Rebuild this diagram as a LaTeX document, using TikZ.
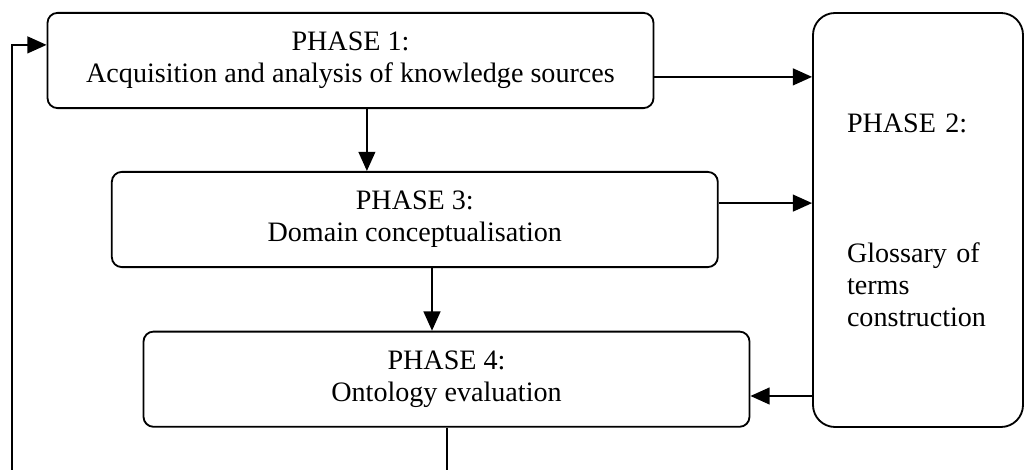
\documentclass[tikz,border=0pt]{standalone}
\usepackage{fontspec}
\setmainfont{Liberation Serif}
\usetikzlibrary{arrows.meta,positioning,calc}

\begin{document}
\begin{tikzpicture}[
  phasebox/.style={draw, line width=1.3pt, rounded corners=0.25cm, minimum width=15.15cm, minimum height=2.38cm, align=center, font=\fontsize{20}{22.8}\selectfont},
  flow/.style={-{Triangle[length=0.48cm,width=0.42cm]}, line width=1.3pt}]
  \useasboundingbox (0,0) rectangle (25.625,11.75);

  % Phase boxes
  \node[phasebox] (p1) at (8.7625,10.2375) {PHASE 1:\\Acquisition and analysis of knowledge sources};
  \node[phasebox] (p3) at (10.37,6.2625) {PHASE 3:\\Domain conceptualisation};
  \node[phasebox] (p4) at (11.1625,2.27) {PHASE 4:\\Ontology evaluation};

  % Glossary
  \node[draw, line width=1.3pt, rounded corners=0.55cm, minimum width=5.25cm, minimum height=10.35cm, text width=3.55cm, inner xsep=0.85cm, align=left, font=\fontsize{20}{22.8}\selectfont] (p2) at (22.95,6.25) {PHASE 2:\\[2.45cm]Glossary of\\terms\\construction};

  % Into the glossary and back
  \coordinate (o12) at ([yshift=-0.41cm]p1.east);
  \draw[flow] (o12) -- (o12 -| p2.west);
  \coordinate (o32) at ([yshift=0.41cm]p3.east);
  \draw[flow] (o32) -- (o32 -| p2.west);
  \coordinate (o24) at ([yshift=-0.42cm]p4.east);
  \draw[flow] (o24 -| p2.west) -- (o24);

  % Down the phases
  \coordinate (o13) at ([xshift=0.41cm]p1.south);
  \draw[flow] (o13) -- (o13 |- p3.north);
  \coordinate (o34) at ([xshift=0.43cm]p3.south);
  \draw[flow] (o34) -- (o34 |- p4.north);

  % Feedback loop, cut off at the bottom
  \coordinate (p4drop) at ([xshift=0.02cm]p4.south);
  \coordinate (p4out) at (p4drop |- 0,-0.1);
  \draw[line width=1.3pt] (p4drop) -- (p4out);
  \coordinate (back) at (0.3,-0.1);
  \coordinate (o41) at ([yshift=0.39cm]p1.west);
  \draw[flow] (back) |- (o41);
\end{tikzpicture}
\end{document}
